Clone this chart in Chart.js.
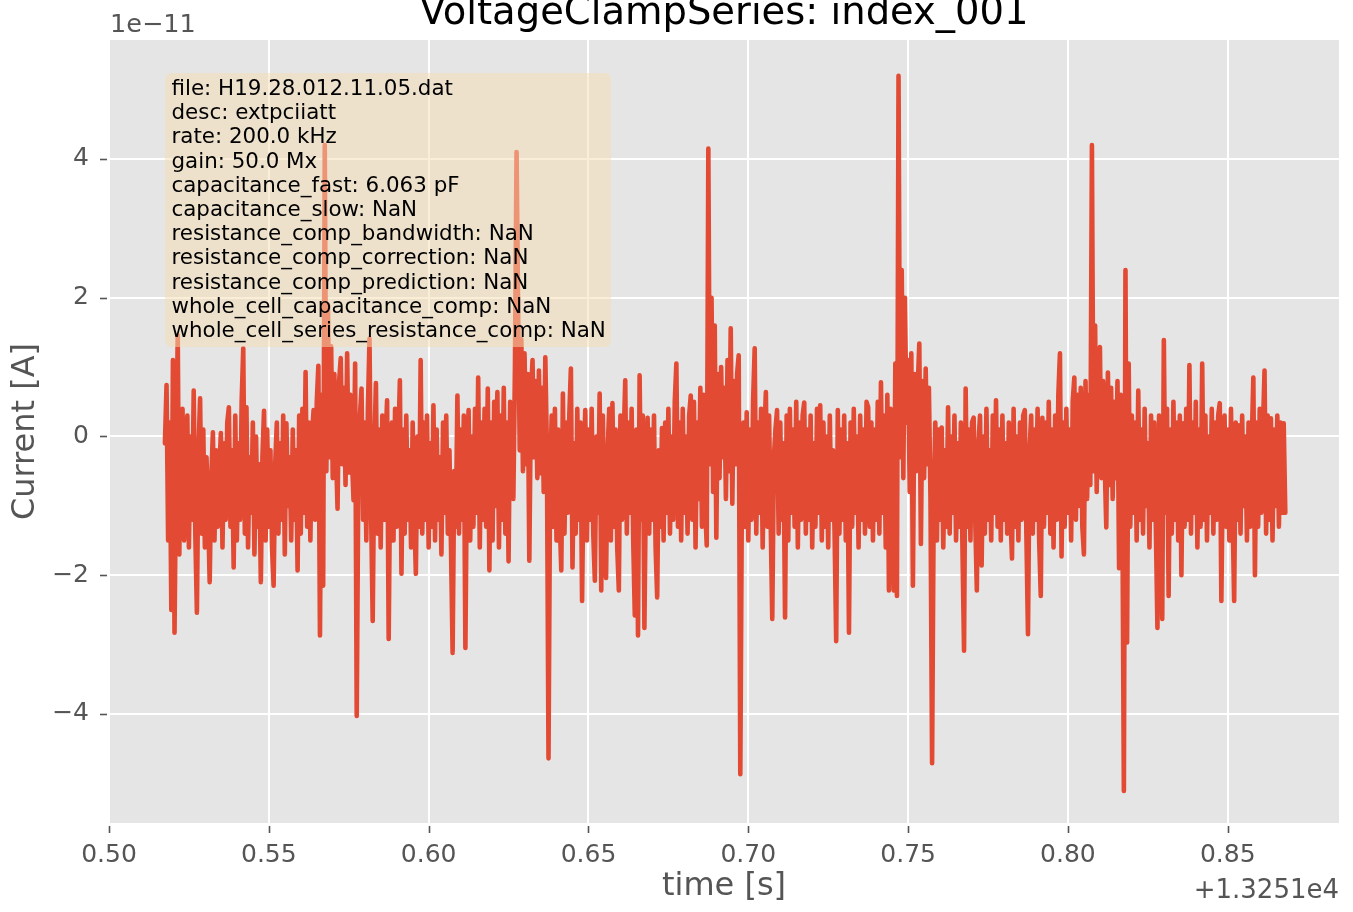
<!DOCTYPE html>
<html>
<head>
<meta charset="utf-8">
<script src="https://cdn.jsdelivr.net/npm/chart.js@4.4.0/dist/chart.umd.min.js"></script>
<style>
  html, body { margin: 0; padding: 0; background: #fff; }
  #wrap { width: 1353px; height: 912px; }
</style>
</head>
<body>
<div id="wrap"><canvas id="trace" width="1353" height="912"></canvas></div>
<script>
// time axis: seconds, offset +1.3251e4, sampled every dt
var t0 = 0.5175;
var dt = 0.0005;

// current in units of 1e-11 A (20 samples per 0.01 s)
var current = [
  -0.1, 0.74, -1.5, 0.2, -2.5, 1.1, -2.83, -0.4, 1.46, -1.7, 0.1, 0.4, -1.5, -0.3, 0.3, -1.6, 0.0, -1.2, 0.66, -1.4,
  -2.54, -0.2, 0.55, -1.4, 0.1, -1.6, -0.3, -1.1, -2.1, -0.6, 0.06, -1.5, -0.2, -1.3, -0.5, 0.05, -1.6, -0.1, -1.2, 0.2,
  0.42, -1.3, -0.2, -1.89, 0.3, -1.5, -0.1, -1.2, 0.5, 1.27, -1.4, 0.42, -1.6, -0.3, -1.1, 0.2, -1.7, 0.0, -1.3, -0.4,
  -2.1, -0.3, 0.37, -1.5, 0.1, -1.3, -0.2, -1.6, -2.15, -0.4, 0.2, -1.4, -0.1, -1.2, 0.3, -1.7, 0.19, -1.0, -0.3, -1.5,
  0.1, -1.2, -0.2, -1.93, 0.3, -1.4, 0.4, -1.1, 0.93, -1.3, 0.2, -1.5, 0.0, 0.38, -1.2, 0.5, 1.02, -2.87, 0.6, -2.15,
  4.2, -0.5, 1.9, -0.3, 1.3, -0.6, 0.9, -0.2, -1.04, 0.8, 1.13, -0.4, 0.7, -0.7, 1.2, -0.52, 0.6, -0.3, -0.92, 1.05,
  -4.03, -0.6, 0.3, 0.69, -1.2, 0.2, -1.5, 0.4, 1.41, -1.1, -2.66, -0.2, 0.77, -1.4, 0.1, -1.6, 0.3, -1.2, -0.1, 0.52,
  -2.92, -0.3, 0.2, -1.5, 0.4, -1.3, -0.1, 0.81, -1.98, 0.1, -1.4, 0.3, -1.2, -0.2, -1.6, 0.2, -1.1, -1.98, 0.0, -1.3,
  1.1, -1.4, 0.2, -1.2, 0.3, -1.6, -0.1, -1.3, 0.45, -1.5, 0.1, -1.2, -0.3, -1.7, 0.2, -1.1, 0.3, -1.4, -0.2, -1.6,
  -3.12, -0.5, -1.3, 0.59, -1.4, 0.1, -1.2, 0.3, -3.05, -0.3, 0.38, -1.5, 0.0, -1.3, 0.4, -1.1, 0.85, -1.6, 0.2, -1.2,
  0.4, -1.3, 0.69, -1.93, 0.2, -1.5, 0.5, -1.0, 0.64, -1.6, 0.3, -1.2, 0.7, -1.4, 0.2, -1.8, 0.5, 0.33, -0.9, 1.0,
  4.1, 1.8, -0.2, 1.4, -0.5, 1.2, -0.4, 0.9, -1.79, 0.6, 1.1, -0.3, 0.8, -0.6, 0.95, -0.53, 0.7, -0.8, 1.14, -0.2,
  -4.64, -0.6, 0.3, -1.3, 0.4, -1.5, 0.1, -1.2, -1.93, 0.62, -1.4, 0.2, -1.1, 0.3, 0.98, -1.89, -0.1, -1.4, 0.4, -1.2,
  0.2, -2.37, -0.4, 0.38, -1.5, 0.1, -1.2, 0.4, -1.4, -2.08, 0.0, -1.1, 0.62, -2.22, 0.3, -1.3, -2.04, -0.2, 0.4, -1.5,
  0.48, -1.3, 0.1, -1.6, -2.22, 0.3, -1.2, -0.1, 0.81, -1.4, 0.2, -1.1, 0.4, -1.5, -2.58, 0.1, -2.87, 0.88, -1.2, 0.3,
  -2.76, -0.5, 0.27, -1.4, 0.1, -1.2, 0.3, -1.6, -2.32, -0.2, -1.3, 0.12, -1.5, 0.2, -1.1, 0.4, -1.4, 0.0, -1.2, 0.5,
  1.05, -1.3, 0.2, -1.5, 0.4, -1.1, 0.0, -1.4, 0.3, 0.59, -1.2, 0.5, -1.6, 0.2, -0.9, 0.7, -1.3, 0.6, -1.0, -1.57,
  4.15, -0.4, 2.0, -0.8, 1.6, -1.46, 0.9, -0.6, 1.0, -0.3, 0.7, -0.9, 1.1, -0.5, 1.56, -0.97, 0.8, -0.4, 0.9, 1.17,
  -4.87, -0.8, 0.2, -1.3, 0.35, -1.5, 0.1, -1.2, 0.5, 1.27, -1.4, 0.2, -1.1, 0.4, -1.6, 0.0, 0.64, -1.3, 0.3, -1.2,
  -2.63, -0.3, 0.1, 0.38, -1.4, 0.2, -1.2, -0.1, -2.61, 0.3, -1.5, 0.4, -1.1, 0.1, -1.3, 0.5, -1.6, 0.2, -1.2, 0.3,
  0.49, -1.4, 0.1, -1.2, 0.3, -1.6, -0.1, -1.3, 0.4, -1.1, 0.45, -1.5, 0.2, -1.3, 0.0, -1.6, 0.3, -1.2, -0.2, -1.4,
  -2.95, 0.38, -1.4, 0.1, -1.2, 0.3, -1.5, -0.1, -2.83, 0.2, -1.3, 0.4, -1.1, 0.0, -1.6, 0.3, -1.2, 0.1, -1.4, 0.5,
  0.42, -1.3, 0.2, -1.5, 0.1, -1.2, 0.5, -1.4, 0.78, -1.1, 0.3, -1.6, 0.6, -2.22, 0.4, -1.0, -2.22, 1.05, -2.3, 5.2,
  -0.3, 2.4, -0.6, 2.0, 0.2, 1.1, -0.8, 1.2, -2.15, 0.9, -0.5, 0.7, 1.34, -1.55, 0.8, -0.6, 0.98, -0.4, 0.7, -0.9,
  -4.71, -1.0, 0.2, -1.5, 0.1, -1.2, 0.13, -1.6, -0.2, -1.3, 0.42, -1.4, 0.0, -1.1, 0.3, -1.5, -0.1, -1.3, 0.2, -1.6,
  -3.09, 0.69, -1.3, 0.1, -1.5, 0.2, 0.27, -1.2, -2.22, -0.1, 0.3, -1.86, 0.0, -1.4, 0.4, -1.2, -0.2, -1.5, 0.3, -1.1,
  0.52, -1.3, 0.1, -1.5, 0.3, -1.2, -0.1, -1.4, 0.2, -1.1, -1.76, 0.4, -1.3, 0.0, -1.5, 0.2, -1.2, 0.3, 0.38, -1.4,
  -2.85, -0.2, 0.3, -1.4, 0.1, -1.2, 0.4, -1.5, -2.3, 0.27, -1.3, 0.2, -1.1, 0.5, -1.4, 0.1, -1.6, 0.3, -1.2, 0.6,
  1.2, -1.73, 0.2, -1.3, 0.4, -1.1, 0.1, -1.5, 0.5, 0.85, -1.2, 0.6, -1.0, 0.7, -1.3, -1.7, 0.8, -0.9, 0.6, -0.7,
  4.2, -0.5, 1.6, -0.8, 0.9, 1.29, -0.6, 0.8, -0.4, -1.31, 0.92, -0.7, 0.7, -0.9, 0.5, -0.6, 0.8, -1.9, 0.6, -0.8,
  -5.11, 2.4, -2.97, 1.05, -1.3, 0.3, -1.1, 0.2, -1.5, 0.66, -1.2, 0.1, -1.4, 0.4, -1.0, -0.1, -1.6, 0.3, -1.2, 0.2,
  -1.3, -2.76, 0.3, -0.2, -2.63, 1.39, -1.1, 0.4, -2.3, 0.1, -1.4, 0.5, -1.2, 0.2, -1.5, 0.3, -2.0, 0.19, -1.3, 0.4,
  -1.2, 1.03, -1.4, 0.2, -1.1, 0.5, -1.6, 0.1, -1.3, 1.05, -1.2, 0.3, -1.5, 0.0, -1.1, 0.4, -1.4, 0.2, -1.2, 0.3,
  0.48, -2.37, -0.2, 0.3, -1.3, 0.1, -1.5, 0.4, -1.1, -2.37, 0.2, -1.2, 0.16, -1.4, 0.3, -1.0, 0.0, -1.5, 0.2, -1.3,
  -0.1, 0.85, -2.0, 0.2, -1.3, 0.4, -1.1, 0.1, 0.95, -1.4, 0.3, -1.2, 0.26, -1.5, 0.1, -1.0, 0.3, -1.3, 0.2, -1.1,
  0.19, -1.1
];

var xTicks = [0.50, 0.55, 0.60, 0.65, 0.70, 0.75, 0.80, 0.85];
var yTicks = [-4, -2, 0, 2, 4];

var title = 'VoltageClampSeries: index_001';
var infoLines = [
  'file: H19.28.012.11.05.dat',
  'desc: extpciiatt',
  'rate: 200.0 kHz',
  'gain: 50.0 Mx',
  'capacitance_fast: 6.063 pF',
  'capacitance_slow: NaN',
  'resistance_comp_bandwidth: NaN',
  'resistance_comp_correction: NaN',
  'resistance_comp_prediction: NaN',
  'whole_cell_capacitance_comp: NaN',
  'whole_cell_series_resistance_comp: NaN'
];

var points = current.map(function (v, i) { return { x: t0 + dt * i, y: v }; });

var FONT = 'DejaVu Sans';

var decor = {
  id: 'decor',
  beforeDraw: function (chart) {
    var a = chart.chartArea, ctx = chart.ctx;
    ctx.save();
    ctx.fillStyle = '#E5E5E5';
    ctx.fillRect(a.left, a.top, a.right - a.left, a.bottom - a.top);
    ctx.restore();
  },
  afterDatasetsDraw: function (chart) {
    var ctx = chart.ctx, a = chart.chartArea;
    var xs = chart.scales.x, ys = chart.scales.y;
    ctx.save();
    // info box
    var bx = 165, by = 73, bw = 446, bh = 274, r = 6;
    ctx.beginPath();
    ctx.roundRect(bx, by, bw, bh, r);
    ctx.fillStyle = 'rgba(245,222,179,0.5)';
    ctx.fill();
    ctx.fillStyle = '#000';
    ctx.font = '21.4px "' + FONT + '"';
    ctx.textAlign = 'left';
    ctx.textBaseline = 'alphabetic';
    infoLines.forEach(function (s, k) { ctx.fillText(s, 171.5, 95 + 24.2 * k); });

    // tick marks
    ctx.strokeStyle = '#555';
    ctx.lineWidth = 1.6;
    xTicks.forEach(function (v) {
      var px = Math.round(xs.getPixelForValue(v)) + 0.5;
      ctx.beginPath(); ctx.moveTo(px, a.bottom + 3); ctx.lineTo(px, a.bottom + 10); ctx.stroke();
    });
    yTicks.forEach(function (v) {
      var py = Math.round(ys.getPixelForValue(v)) + 0.5;
      ctx.beginPath(); ctx.moveTo(a.left - 9, py); ctx.lineTo(a.left - 2, py); ctx.stroke();
    });

    // title and axis texts
    var cx = (a.left + a.right) / 2;
    ctx.fillStyle = '#000';
    ctx.font = '38.5px "' + FONT + '"';
    ctx.textAlign = 'center';
    ctx.fillText(title, cx, 23.5);

    ctx.fillStyle = '#555';
    ctx.font = '32px "' + FONT + '"';
    ctx.fillText('time [s]', cx, 895);
    ctx.save();
    ctx.translate(34, (a.top + a.bottom) / 2);
    ctx.rotate(-Math.PI / 2);
    ctx.fillText('Current [A]', 0, 0);
    ctx.restore();

    ctx.font = '25.5px "' + FONT + '"';
    ctx.textAlign = 'left';
    ctx.fillText('1e\u221211', a.left + 1, 31.5);
    ctx.font = '26px "' + FONT + '"';
    ctx.textAlign = 'right';
    ctx.fillText('+1.3251e4', a.right, 898);
    ctx.restore();
  }
};

new Chart(document.getElementById('trace'), {
  type: 'line',
  data: {
    datasets: [{
      data: points,
      borderColor: '#E24A33',
      borderWidth: 4.6,
      borderJoinStyle: 'round',
      borderCapStyle: 'round',
      pointRadius: 0,
      tension: 0,
      fill: false
    }]
  },
  options: {
    responsive: false,
    animation: false,
    devicePixelRatio: 1,
    layout: { padding: { top: 40, right: 14, left: 0, bottom: 0 } },
    plugins: { legend: { display: false }, tooltip: { enabled: false }, title: { display: false } },
    scales: {
      x: {
        type: 'linear',
        min: 0.50,
        max: 0.8848,
        afterFit: function (s) { s.height = 89; },
        afterBuildTicks: function (s) { s.ticks = xTicks.map(function (v) { return { value: v }; }); },
        grid: { color: '#fff', lineWidth: 2, drawTicks: false },
        border: { display: false },
        ticks: {
          padding: 17, color: '#555', autoSkip: false, maxRotation: 0,
          font: { family: FONT, size: 25 },
          callback: function (v) { return v.toFixed(2); }
        }
      },
      y: {
        type: 'linear',
        min: -5.572,
        max: 5.715,
        afterFit: function (s) { s.width = 109; },
        afterBuildTicks: function (s) { s.ticks = yTicks.map(function (v) { return { value: v }; }); },
        grid: { color: '#fff', lineWidth: 2, drawTicks: false },
        border: { display: false },
        ticks: {
          padding: 20, color: '#555',
          font: { family: FONT, size: 25 },
          callback: function (v) { return String(v).replace('-', '\u2212'); }
        }
      }
    }
  },
  plugins: [decor]
});
</script>
</body>
</html>
